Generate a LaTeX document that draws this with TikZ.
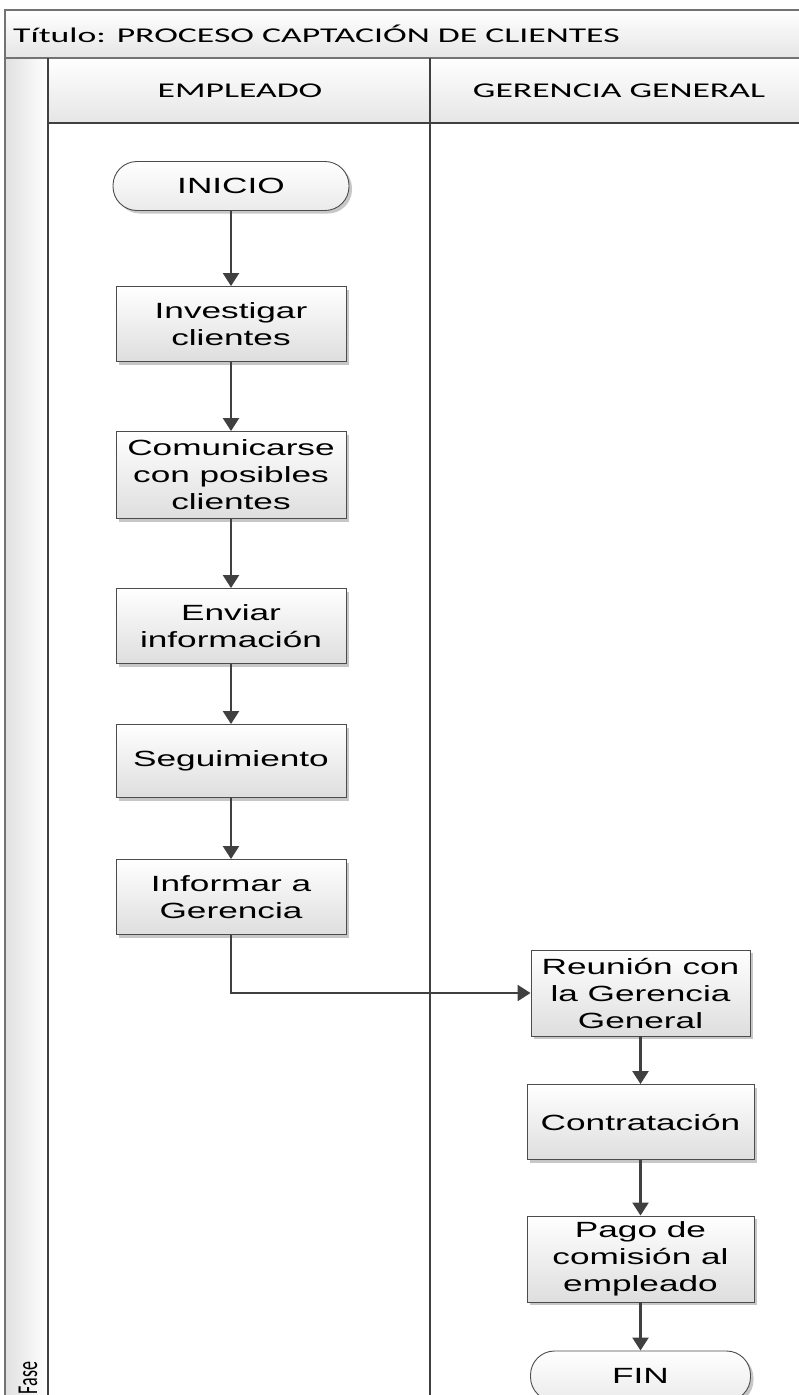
\documentclass[tikz,border=0pt]{standalone}
\usepackage{fontspec}
\setmainfont{Liberation Sans}
\newfontfamily\boxfont[FakeStretch=1.6]{Liberation Sans}
\newfontfamily\hdrfont[FakeStretch=1.7]{Carlito}
\newfontfamily\calib{Carlito}
\usetikzlibrary{arrows.meta,shadows}

\begin{document}
\begin{tikzpicture}[x=1pt,y=1pt,
  proc/.style={draw=black!70, line width=0.9pt, top color=white, bottom color=black!13,
    minimum width=230pt, minimum height=75pt, align=center, inner sep=2pt,
    font=\boxfont\fontsize{22}{27}\selectfont,
    drop shadow={shadow xshift=3pt, shadow yshift=-3pt, fill=black!22, opacity=1}},
  term/.style={proc, rounded corners=24pt, minimum height=49pt, bottom color=black!8},
  flow/.style={draw=black!75, line width=2.3pt, -{Triangle[length=13pt,width=16pt]}},
  lane/.style={draw=black!75, line width=1.8pt},
  frame/.style={draw=black!55, line width=1.6pt},
  hdr/.style={font=\hdrfont\fontsize{21}{25}\selectfont}
]
\useasboundingbox (0,0) rectangle (798,-1395);

% swimlane frame
\shade[top color=white, bottom color=black!10] (5,-10) rectangle (805,-58);
\shade[top color=white, bottom color=black!10] (48,-58) rectangle (805,-123);
\shade[left color=black!12, right color=white] (5,-58) rectangle (48,-1400);
\draw[frame] (805,-10) -- (5,-10) -- (5,-1400);
\draw[frame] (5,-58) -- (805,-58);
\draw[lane] (48,-123) -- (805,-123);
\draw[lane] (48,-58) -- (48,-1400);
\draw[lane] (430,-58) -- (430,-1400);

\node[hdr, anchor=west, inner sep=0pt] (title) at (13,-34) {Título: PROCESO CAPTACIÓN DE CLIENTES};
\node[hdr] (laneA) at (240,-91) {EMPLEADO};
\node[hdr] (laneB) at (619,-91) {GERENCIA GENERAL};
\node[font=\calib\fontsize{18}{20}\selectfont, rotate=90] (fase) at (28,-1378) {\scalebox{1}[1.6]{Fase}};

% process steps
\node[term, minimum width=236pt] (ini) at (231,-186) {INICIO};
\node[proc] (inv) at (231,-324) {Investigar\\clientes};
\node[proc, minimum height=87pt] (com) at (231,-475) {Comunicarse\\con posibles\\clientes};
\node[proc] (env) at (231,-626) {Enviar\\información};
\node[proc, minimum height=73pt] (seg) at (231,-761) {Seguimiento};
\node[proc] (inf) at (231,-897) {Informar a\\Gerencia};
\node[proc, minimum width=219pt, minimum height=86pt] (reu) at (640.5,-993) {Reunión con\\la Gerencia\\General};
\node[proc, minimum width=227pt] (con) at (640.5,-1122) {Contratación};
\node[proc, minimum width=227pt, minimum height=86pt] (pag) at (640.5,-1259) {Pago de\\comisión al\\empleado};
\node[term, minimum width=220pt, minimum height=50pt] (fin) at (640.5,-1376) {FIN};

% connectors
\draw[flow] (ini) -- (inv);
\draw[flow] (inv) -- (com);
\draw[flow] (com) -- (env);
\draw[flow] (env) -- (seg);
\draw[flow] (seg) -- (inf);
\draw[flow] (inf.south) |- (reu.west);
\draw[flow] (reu) -- (con);
\draw[flow] (con) -- (pag);
\draw[flow] (pag) -- (fin);
\end{tikzpicture}
\end{document}
